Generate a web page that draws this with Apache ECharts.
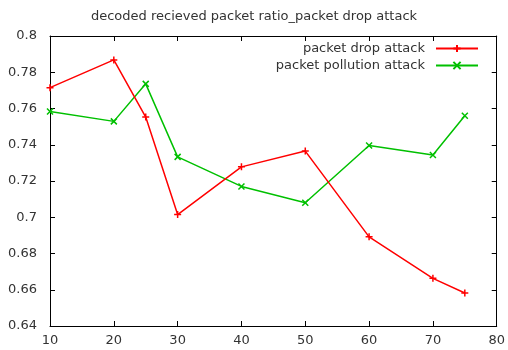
<!DOCTYPE html>
<html><head><meta charset="utf-8">
<script src="https://cdn.jsdelivr.net/npm/echarts@6/dist/echarts.min.js"></script>
<style>html,body{margin:0;padding:0;background:#fff}#c{width:508px;height:350px}</style>
</head><body><div id="c"></div>
<script>
var title = 'decoded recieved packet ratio_packet drop attack';
var xValues = [10, 20, 25, 30, 40, 50, 60, 70, 75];
var dropAttack = [0.7715, 0.7868, 0.7553, 0.7015, 0.7278, 0.7365, 0.6892, 0.6663, 0.6582];
var pollutionAttack = [0.7583, 0.7529, 0.7736, 0.7333, 0.7170, 0.7080, 0.7396, 0.7343, 0.7560];
var seriesNames = ['packet drop attack', 'packet pollution attack'];

var FONT = 'DejaVu Sans';
var plus = 'path://M0,5L10,5M5,0L5,10';
var cross = 'path://M0,0L10,10M10,0L0,10';
function pairs(ys){ return xValues.map(function(x,i){return [x, ys[i]];}); }
function fmt(v){ return String(parseFloat(v.toFixed(2))); }
var axisLine = {show:true, lineStyle:{color:'#000', width:1}};
var chart = echarts.init(document.getElementById('c'), null, {renderer:'canvas'});
chart.setOption({
  animation:false,
  backgroundColor:'#fff',
  title:{text:title, left:'center', top:5, textStyle:{fontFamily:FONT, fontSize:13, fontWeight:'normal', color:'#333'}},
  grid:{left:50, right:11, top:36, bottom:24},
  legend:{
    right:24, top:37, orient:'vertical', align:'right', itemGap:4,
    itemWidth:42, itemHeight:9,
    textStyle:{fontFamily:FONT, fontSize:13, color:'#333', padding:[0,6,0,0]},
    data:seriesNames
  },
  xAxis:[
    {type:'value', min:10, max:80, interval:10, axisLine:axisLine,
     axisTick:{show:true, inside:true, length:5, lineStyle:{color:'#000'}},
     axisLabel:{fontFamily:FONT, fontSize:13, color:'#333', margin:8},
     splitLine:{show:false}},
    {type:'value', position:'top', min:10, max:80, interval:10, axisLine:axisLine,
     axisTick:{show:true, inside:true, length:5, lineStyle:{color:'#000'}},
     axisLabel:{show:false}, splitLine:{show:false}}
  ],
  yAxis:[
    {type:'value', min:0.64, max:0.8, interval:0.02, axisLine:axisLine,
     axisTick:{show:true, inside:true, length:5, lineStyle:{color:'#000'}},
     axisLabel:{fontFamily:FONT, fontSize:13, color:'#333', margin:13, formatter:fmt},
     splitLine:{show:false}},
    {type:'value', position:'right', min:0.64, max:0.8, interval:0.02, axisLine:axisLine,
     axisTick:{show:true, inside:true, length:5, lineStyle:{color:'#000'}},
     axisLabel:{show:false}, splitLine:{show:false}}
  ],
  series:[
    {name:seriesNames[0], type:'line', data:pairs(dropAttack), symbol:plus, symbolSize:7, showAllSymbol:true,
     lineStyle:{color:'#ff0000', width:1.5}, itemStyle:{color:'#ff0000', borderColor:'#ff0000', borderWidth:1.5}, z:3},
    {name:seriesNames[1], type:'line', data:pairs(pollutionAttack), symbol:cross, symbolSize:6, showAllSymbol:true,
     lineStyle:{color:'#00c000', width:1.5}, itemStyle:{color:'#00c000', borderColor:'#00c000', borderWidth:1.5}, z:2}
  ]
});
</script></body></html>
